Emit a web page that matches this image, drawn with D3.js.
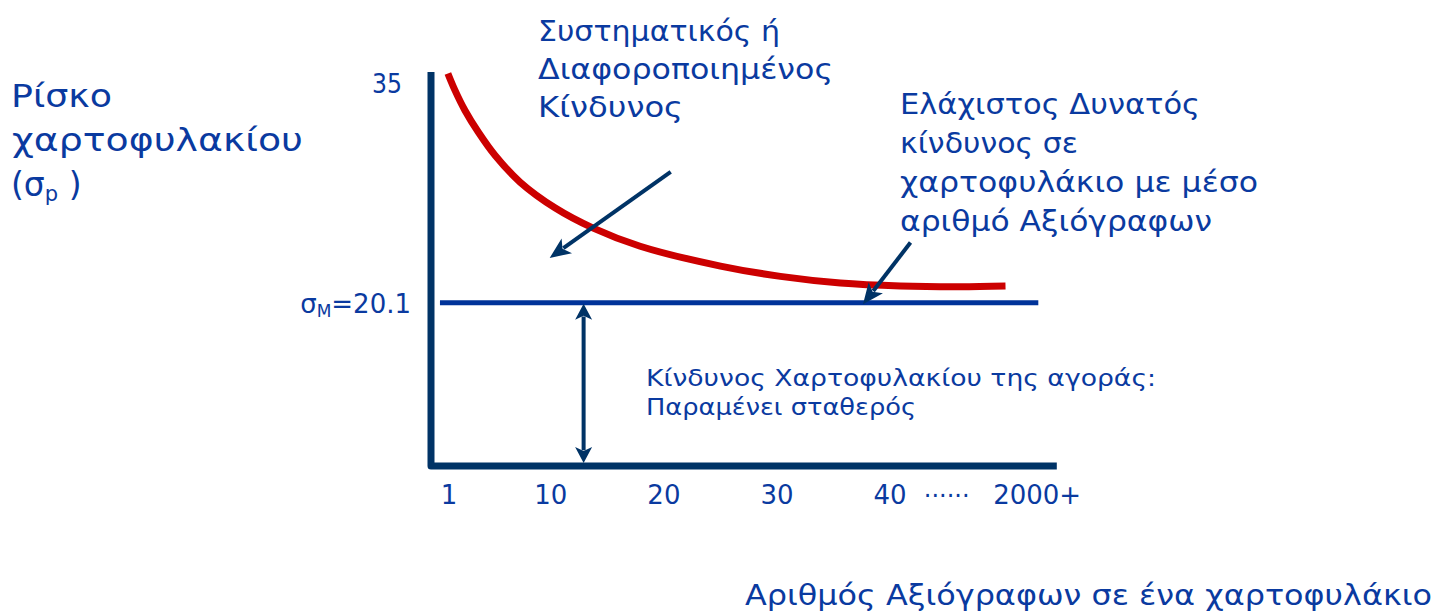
<!DOCTYPE html>
<html>
<head>
<meta charset="utf-8">
<script src="https://cdn.jsdelivr.net/npm/d3@7"></script>
<style>
  html, body { margin: 0; padding: 0; background: #ffffff; }
  svg { display: block; }
  text { font-family: "DejaVu Sans", Verdana, sans-serif; fill: #0a3aa0; }
</style>
</head>
<body>
<svg id="chart" width="1443" height="614"></svg>
<script>
// Number of securities in the portfolio (axis slots) and their labels
const xTickValues = [1, 10, 20, 30, 40, 45, 53];
const xTickLabels = ["1", "10", "20", "30", "40", "······", "2000+"];

// Portfolio risk as the number of securities grows
const curveSecurities = [0.9, 1.5, 2.4, 3.6, 5.1, 7.3, 10.4, 13.7, 17.9, 25.0, 30.3, 35.6, 40.9, 46.2, 50.2];
const curveRisk       = [35.7, 34.6, 33.2, 31.7, 30.1, 28.3, 26.55, 25.2, 23.95, 22.6, 21.9, 21.45, 21.25, 21.2, 21.25];

// Market portfolio risk (constant)
const marketRisk = 20.1;
const marketSpan = [0.2, 53.1];
const yTopTick = 35;

const svg = d3.select("#chart");

const x = d3.scaleLinear().domain([0, 55]).range([437.7, 1059.8]);
const y = d3.scaleLinear().domain([9, 35.8]).range([466, 72]);

const navy = "#003366";
const blue = "#003399";
const red = "#cc0000";

// Axes: one path with a rounded corner
svg.append("path")
  .attr("d", `M${x(0) - 6.7},${y.range()[1]} V${y.range()[0]} H${x(55) - 3}`)
  .attr("fill", "none")
  .attr("stroke", navy)
  .attr("stroke-width", 7)
  .attr("stroke-linejoin", "round");

// Market risk line
svg.append("line")
  .attr("x1", x(marketSpan[0])).attr("x2", x(marketSpan[1]))
  .attr("y1", y(marketRisk)).attr("y2", y(marketRisk))
  .attr("stroke", blue).attr("stroke-width", 5);

// Diversification curve
const line = d3.line()
  .x((d, i) => x(curveSecurities[i]))
  .y(d => y(d))
  .curve(d3.curveCatmullRom.alpha(0.5));

svg.append("path")
  .attr("d", line(curveRisk))
  .attr("fill", "none")
  .attr("stroke", red)
  .attr("stroke-width", 7);

// Arrow helper: shaft plus a filled head at (x2, y2)
function arrow(x1, y1, x2, y2, headLen, headW, width, colour, doubleHead) {
  const g = svg.append("g");
  const ang = Math.atan2(y2 - y1, x2 - x1);
  const head = (tx, ty, a) => {
    const bx = tx - headLen * Math.cos(a), by = ty - headLen * Math.sin(a);
    const px = -Math.sin(a) * headW / 2, py = Math.cos(a) * headW / 2;
    g.append("path")
      .attr("d", `M${tx},${ty} L${bx + px},${by + py} L${bx + headLen * 0.25 * Math.cos(a)},${by + headLen * 0.25 * Math.sin(a)} L${bx - px},${by - py} Z`)
      .attr("fill", colour);
  };
  const sx = doubleHead ? x1 + (headLen * 0.8) * Math.cos(ang) : x1;
  const sy = doubleHead ? y1 + (headLen * 0.8) * Math.sin(ang) : y1;
  g.append("line")
    .attr("x1", sx).attr("y1", sy)
    .attr("x2", x2 - headLen * 0.8 * Math.cos(ang))
    .attr("y2", y2 - headLen * 0.8 * Math.sin(ang))
    .attr("stroke", colour).attr("stroke-width", width);
  head(x2, y2, ang);
  if (doubleHead) head(x1, y1, ang + Math.PI);
}

// Pointer to the diversifiable risk region
arrow(x(20.6), y(29.0), x(9.9), y(23.15), 21, 18, 4, navy, false);
// Pointer to the minimum attainable risk
arrow(x(41.8), y(24.2), x(37.6), y(20.0), 21, 18, 4, navy, false);
// Market risk span down to the axis
arrow(x(12.9), y(marketRisk) + 1, x(12.9), y.range()[0] - 3, 16, 17, 4, navy, true);

// Text helper: one line, stretched to a set width
function label(s, x0, y0, size, width) {
  const t = svg.append("text")
    .attr("x", x0).attr("y", y0).attr("font-size", size).text(s);
  if (width) t.attr("textLength", width).attr("lengthAdjust", "spacingAndGlyphs");
  return t;
}

// Y tick labels
svg.append("text")
  .attr("x", 402).attr("y", y(yTopTick) + 9.5)
  .attr("text-anchor", "end").attr("font-size", 26)
  .attr("textLength", 30).attr("lengthAdjust", "spacingAndGlyphs")
  .text(String(yTopTick));

const sm = svg.append("text")
  .attr("x", 411).attr("y", y(marketRisk) + 10)
  .attr("text-anchor", "end").attr("font-size", 26);
sm.append("tspan").text("σ");
sm.append("tspan").attr("font-size", 17).attr("dy", 4).text("M");
sm.append("tspan").attr("dy", -4).text("=" + d3.format(".1f")(marketRisk));

// X tick labels
svg.append("g").selectAll("text")
  .data(xTickValues)
  .join("text")
  .attr("x", d => x(d))
  .attr("y", 504)
  .attr("text-anchor", "middle")
  .attr("font-size", (d, i) => xTickLabels[i].startsWith("·") ? 24 : 26)
  .text((d, i) => xTickLabels[i]);

// Y axis title
label("Ρίσκο", 11, 107, 32, 101);
label("χαρτοφυλακίου", 12, 151, 32, 291);
const t3 = svg.append("text").attr("font-size", 33).attr("x", 11).attr("y", 196);
t3.append("tspan").text("(σ");
t3.append("tspan").attr("font-size", 21).attr("dy", 5).text("p");
t3.append("tspan").attr("dy", -5).text(" )");

// X axis title
label("Αριθμός Αξιόγραφων σε ένα χαρτοφυλάκιο", 745, 605, 29, 687);

// Annotation blocks
label("Συστηματικός ή", 538, 41, 29, 242);
label("Διαφοροποιημένος", 538, 79, 29, 295);
label("Κίνδυνος", 538, 117, 29, 145);

label("Ελάχιστος Δυνατός", 900, 114, 29, 300);
label("κίνδυνος σε", 900, 153, 29, 178);
label("χαρτοφυλάκιο με μέσο", 900, 192, 29, 358);
label("αριθμό Αξιόγραφων", 900, 231, 29, 312);

label("Κίνδυνος Χαρτοφυλακίου της αγοράς:", 646, 386, 23, 510);
label("Παραμένει σταθερός", 646, 415, 23, 270);
</script>
</body>
</html>
